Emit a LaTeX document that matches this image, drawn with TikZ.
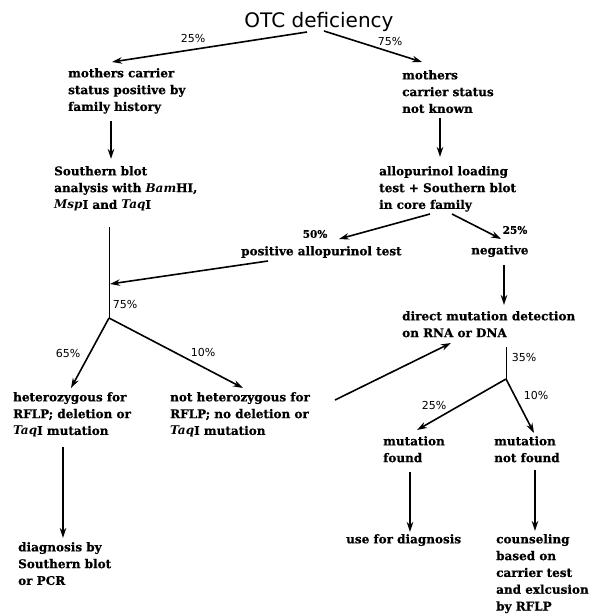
\documentclass[tikz,border=0pt]{standalone}
\usepackage{fontspec}
\usepackage{tikz}
\usetikzlibrary{arrows.meta}
\newfontfamily\bodyfont{DejaVu Serif}[BoldFeatures={FakeBold=0.6}]
\newfontfamily\pctfont{DejaVu Sans}

\begin{document}
\begin{tikzpicture}[x=1pt,y=-1pt,
    txt/.style={anchor=north west,inner sep=0pt,align=left,
        font=\bodyfont\bfseries\fontsize{12}{16.8}\selectfont},
    pct/.style={inner sep=0pt,font=\pctfont\fontsize{11}{12}\selectfont},
    bpct/.style={inner sep=0pt,font=\bodyfont\bfseries\fontsize{10.5}{12}\selectfont},
    arr/.style={-{Stealth[length=10pt,width=6.5pt]},line width=1.6pt}]
    \useasboundingbox (0,0) rectangle (594,615);
    \node[anchor=base,inner sep=0pt,font=\pctfont\fontsize{20}{24}\selectfont] (otc) at (319,28) {OTC deficiency};
    \node[txt] (mcp) at (68,68) {mothers carrier\\status positive by\\family history};
    \node[txt] (mcu) at (402,70) {mothers\\carrier status\\not known};
    \node[txt] (sba) at (54,166) {Southern blot\\analysis with \textit{Bam}HI,\\\textit{Msp}I and \textit{Taq}I};
    \node[txt] (alt) at (379,166) {allopurinol loading\\test + Southern blot\\in core family};
    \node[txt] (pos) at (241,246) {positive allopurinol test};
    \node[txt] (neg) at (471,245) {negative};
    \node[txt] (het) at (13,392) {heterozygous for\\RFLP; deletion or\\\textit{Taq}I mutation};
    \node[txt] (nhet) at (170,392) {not heterozygous for\\RFLP; no deletion or\\\textit{Taq}I mutation};
    \node[txt] (dmd) at (402,311) {direct mutation detection\\on RNA or DNA};
    \node[txt] (mf) at (383,436) {mutation\\found};
    \node[txt] (mnf) at (494,436) {mutation\\not found};
    \node[txt] (dia) at (18,542) {diagnosis by\\Southern blot\\or PCR};
    \node[txt] (use) at (346,534) {use for diagnosis};
    \node[txt] (cou) at (496,534) {counseling\\based on\\carrier test\\and exlcusion\\by RFLP};
    \coordinate (jl) at (109,318);
    \coordinate (jm) at (110,284);
    \coordinate (jr) at (506,379);
    % percentages
    \node[pct] (p25a) at (193,38) {25\%};
    \node[pct] (p75a) at (390,41) {75\%};
    \node[bpct] (p50) at (315,234) {50\%};
    \node[bpct] (p25b) at (515,230) {25\%};
    \node[pct] (p75b) at (125,304) {75\%};
    \node[pct] (p65) at (68,353) {65\%};
    \node[pct] (p10a) at (203,352) {10\%};
    \node[pct] (p35) at (524,357) {35\%};
    \node[pct] (p25c) at (434,405) {25\%};
    \node[pct] (p10b) at (536,395) {10\%};
    % connectors
    \draw[arr] ([shift={(-12,4)}]otc.base) -- ([shift={(44,-6)}]mcp.north west);
    \draw[arr] ([shift={(5,3)}]otc.base) -- ([shift={(20,-8)}]mcu.north west);
    \draw[arr] ([shift={(43,53)}]mcp.north west) -- ([shift={(57,-7)}]sba.north west);
    \draw[arr] ([shift={(38,48)}]mcu.north west) -- ([shift={(61,-9)}]alt.north west);
    \draw[line width=1pt] ([shift={(55,61)}]sba.north west) -- (jl);
    \draw[arr] ([shift={(51,48)}]alt.north west) -- ([shift={(98,-7)}]pos.north west);
    \draw[arr] ([shift={(73,48)}]alt.north west) -- ([shift={(30,-6)}]neg.north west);
    \draw[arr] ([shift={(27,15)}]pos.north west) -- (jm);
    \draw[arr] (jl) -- ([shift={(58,-4)}]het.north west);
    \draw[arr] (jl) -- ([shift={(73,-4)}]nhet.north west);
    \draw[arr] ([shift={(165,8)}]nhet.north west) -- ([shift={(49,32)}]dmd.north west);
    \draw[arr] ([shift={(33,20)}]neg.north west) -- ([shift={(102,-6)}]dmd.north west);
    \draw[line width=1pt] ([shift={(104,36)}]dmd.north west) -- (jr);
    \draw[arr] (jr) -- ([shift={(34,-6)}]mf.north west);
    \draw[arr] (jr) -- ([shift={(40,-3)}]mnf.north west);
    \draw[arr] ([shift={(50,55)}]het.north west) -- ([shift={(45,-4)}]dia.north west);
    \draw[arr] ([shift={(27,36)}]mf.north west) -- ([shift={(64,-2)}]use.north west);
    \draw[arr] ([shift={(41,34)}]mnf.north west) -- ([shift={(39,-3)}]cou.north west);
\end{tikzpicture}
\end{document}
